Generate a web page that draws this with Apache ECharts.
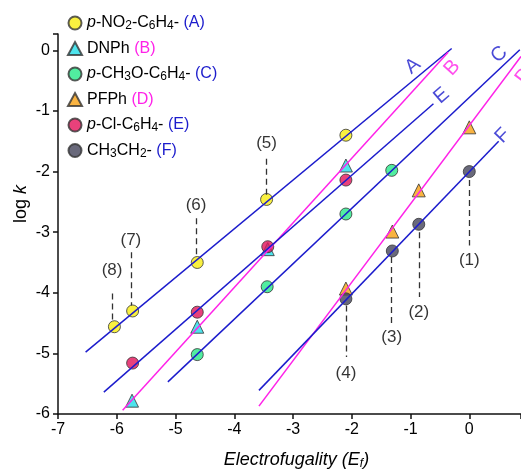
<!DOCTYPE html>
<html>
<head>
<meta charset="utf-8">
<script src="https://cdn.jsdelivr.net/npm/echarts@6/dist/echarts.min.js"></script>
<style>
html,body{margin:0;padding:0;background:#fff;}
#main{width:521px;height:469px;}
</style>
</head>
<body>
<div id="main"></div>
<script>
// compounds (legend) and fit letters
var compounds = ['p-NO2-C6H4-', 'DNPh', 'p-CH3O-C6H4-', 'PFPh', 'p-Cl-C6H4-', 'CH3CH2-'];
var letters = ['A', 'B', 'C', 'D', 'E', 'F'];

// measured points: electrofugality (Ef) and log k
var efA = [-6.04, -5.73, -4.63, -3.45, -2.10];
var logkA = [-4.56, -4.30, -3.50, -2.46, -1.40];
var efB = [-5.74, -4.63, -3.43, -2.10];
var logkB = [-5.78, -4.56, -3.28, -1.90];
var efC = [-4.63, -3.44, -2.10, -1.32];
var logkC = [-5.02, -3.90, -2.70, -1.98];
var efD = [-2.10, -1.31, -0.86, 0.00];
var logkD = [-3.93, -2.99, -2.31, -1.27];
var efE = [-5.73, -4.63, -3.43, -2.10];
var logkE = [-5.16, -4.32, -3.24, -2.14];
var efF = [-2.10, -1.31, -0.86, 0.00];
var logkF = [-4.10, -3.31, -2.87, -2.00];

// fitted lines: start / end
var fitEf = [[-6.53, -0.30], [-5.90, -0.36], [-5.13, 0.86], [-3.58, 0.88], [-6.22, -0.61], [-3.58, 0.50]];
var fitLogk = [[-4.98, 0.03], [-5.94, -0.03], [-5.47, 0.01], [-5.87, -0.10], [-5.64, -0.88], [-5.61, -1.50]];

// letter next to each fitted line
var letterEf = [-0.96, -0.29, 0.51, 0.93, -0.47, 0.57];
var letterLogk = [-0.26, -0.29, -0.07, -0.42, -0.75, -1.41];

// numbered electrofuges (dashed markers)
var annotText = ['(1)', '(2)', '(3)', '(4)', '(5)', '(6)', '(7)', '(8)'];
var annotEf = [0.00, -0.86, -1.32, -2.10, -3.45, -4.65, -5.76, -6.08];
var annotTop = [-2.14, -3.00, -3.41, -4.21, -1.79, -2.77, -3.33, -4.01];
var annotBottom = [-3.22, -4.07, -4.54, -5.06, -2.39, -3.41, -4.21, -4.48];
var annotLabel = [-3.47, -4.32, -4.73, -5.33, -1.53, -2.56, -3.14, -3.63];

var xTicks = [-7, -6, -5, -4, -3, -2, -1, 0];
var yTicks = [-6, -5, -4, -3, -2, -1, 0];

var efAll = [efA, efB, efC, efD, efE, efF];
var logkAll = [logkA, logkB, logkC, logkD, logkE, logkF];
var symbols = ['circle', 'triangle', 'circle', 'triangle', 'circle', 'circle'];
var fills = ['#f8ec10', '#22dde8', '#26e888', '#f7a012', '#e2125a', '#44445a'];
var BLUE = '#1c1ccc', MAGENTA = '#ff22e8';
var lineColors = [BLUE, MAGENTA, BLUE, MAGENTA, BLUE, BLUE];
var FONT = '"Liberation Sans", Arial, sans-serif';
var INK = '#000';

var legendRich = {};
legendRich[compounds[0]] = '{i|p}-NO{s|2}-C{s|6}H{s|4}- {b|(A)}';
legendRich[compounds[1]] = 'DNPh {m|(B)}';
legendRich[compounds[2]] = '{i|p}-CH{s|3}O-C{s|6}H{s|4}- {b|(C)}';
legendRich[compounds[3]] = 'PFPh {m|(D)}';
legendRich[compounds[4]] = '{i|p}-Cl-C{s|6}H{s|4}- {b|(E)}';
legendRich[compounds[5]] = 'CH{s|3}CH{s|2}- {b|(F)}';

var myChart = echarts.init(document.getElementById('main'));

var series = [];
//拟合直线
letters.forEach(function (l, i) {
    series.push({
        name: 'fit ' + l,
        type: 'line',
        z: 4,
        symbol: 'none',
        silent: true,
        lineStyle: {color: lineColors[i], width: 1.5},
        data: [[fitEf[i][0], fitLogk[i][0]], [fitEf[i][1], fitLogk[i][1]]]
    });
});
//数据点
compounds.forEach(function (c, i) {
    series.push({
        name: c,
        type: 'scatter',
        z: 3,
        symbol: symbols[i],
        symbolSize: symbols[i] == 'triangle' ? 13 : 12,
        itemStyle: {color: fills[i], borderColor: '#333', borderWidth: 1},
        data: efAll[i].map(function (x, j) { return [x, logkAll[i][j]]; })
    });
});
//直线字母
series.push({
    name: 'letters',
    type: 'scatter',
    z: 5,
    clip: false,
    symbolSize: 0,
    silent: true,
    data: letters.map(function (l, i) {
        return {
            value: [letterEf[i], letterLogk[i]],
            label: {show: true, position: 'inside', formatter: l, color: lineColors[i],
                fontSize: 20, fontFamily: FONT, rotate: 0}
        };
    })
});
//编号及虚线
series.push({
    name: 'annot',
    type: 'scatter',
    z: 5,
    symbolSize: 0,
    silent: true,
    label: {show: true, position: 'inside', color: INK, fontSize: 17, fontFamily: FONT,
        formatter: function (p) { return annotText[p.dataIndex]; }},
    data: annotEf.map(function (x, i) { return [x, annotLabel[i]]; }),
    markLine: {
        silent: true,
        symbol: ['none', 'none'],
        label: {show: false},
        lineStyle: {color: '#333', width: 1.3, type: [6, 4]},
        data: annotEf.map(function (x, i) {
            return [{coord: [x, annotTop[i]]}, {coord: [x, annotBottom[i]]}];
        })
    }
});

var axisCommon = {
    type: 'value',
    splitLine: {show: false},
    nameMoveOverlap: false,
    axisLine: {onZero: false, lineStyle: {color: '#111', width: 1.5}},
    axisTick: {show: true, length: 5, lineStyle: {color: '#111', width: 1.5}},
    axisLabel: {fontSize: 16, color: INK, fontFamily: FONT,
        formatter: function (v) { return Number.isInteger(v) ? String(v) : ''; }}
};

var option = {
    animation: false,
    grid: {left: 58, right: 0, top: 34, bottom: 55, containLabel: false, outerBoundsMode: 'none'},
    legend: {
        data: compounds,
        orient: 'vertical',
        left: 67,
        top: 14,
        padding: 0,
        itemWidth: 14,
        itemHeight: 13,
        itemGap: 7.5,
        selectedMode: false,
        formatter: function (name) { return legendRich[name]; },
        textStyle: {
            fontSize: 16, color: INK, fontFamily: FONT, lineHeight: 18,
            rich: {
                i: {fontSize: 16, fontStyle: 'italic', fontFamily: FONT, color: INK, lineHeight: 18},
                s: {fontSize: 12, fontFamily: FONT, color: INK, verticalAlign: 'bottom', lineHeight: 18},
                b: {fontSize: 16, fontFamily: FONT, color: BLUE, lineHeight: 18},
                m: {fontSize: 16, fontFamily: FONT, color: MAGENTA, lineHeight: 18}
            }
        }
    },
    xAxis: Object.assign({}, axisCommon, {
        min: xTicks[0], max: 0.88, interval: 1,
        name: 'Electrofugality ({e|E}{s|f})',
        nameLocation: 'middle',
        nameGap: 36,
        nameTextStyle: {
            fontSize: 18, fontStyle: 'italic', color: INK, fontFamily: FONT, lineHeight: 20,
            padding: [0, 0, 0, 14],
            rich: {
                e: {fontSize: 18, fontStyle: 'italic', color: INK, fontFamily: FONT, lineHeight: 20},
                s: {fontSize: 12, color: INK, fontFamily: FONT, verticalAlign: 'bottom', lineHeight: 20}
            }
        }
    }),
    yAxis: Object.assign({}, axisCommon, {
        min: yTicks[0], max: 0.27, interval: 1,
        name: 'log {k|k}',
        nameLocation: 'middle',
        nameRotate: 90,
        nameGap: 27,
        nameTextStyle: {
            fontSize: 18, color: INK, fontFamily: FONT, lineHeight: 20,
            padding: [0, 0, 0, 40],
            rich: {k: {fontSize: 18, fontStyle: 'italic', color: INK, fontFamily: FONT, lineHeight: 20}}
        }
    }),
    series: series
};
myChart.setOption(option);

// rotate letters along their line (using pixel slope from chart scales)
var letterSeries = series[series.length - 2];
letterSeries.data.forEach(function (d, i) {
    var p0 = myChart.convertToPixel({gridIndex: 0}, [fitEf[i][0], fitLogk[i][0]]);
    var p1 = myChart.convertToPixel({gridIndex: 0}, [fitEf[i][1], fitLogk[i][1]]);
    var ang = Math.atan2(p0[1] - p1[1], p1[0] - p0[0]) * 180 / Math.PI;
    d.label.rotate = ang;
});
myChart.setOption({series: series});
</script>
</body>
</html>
